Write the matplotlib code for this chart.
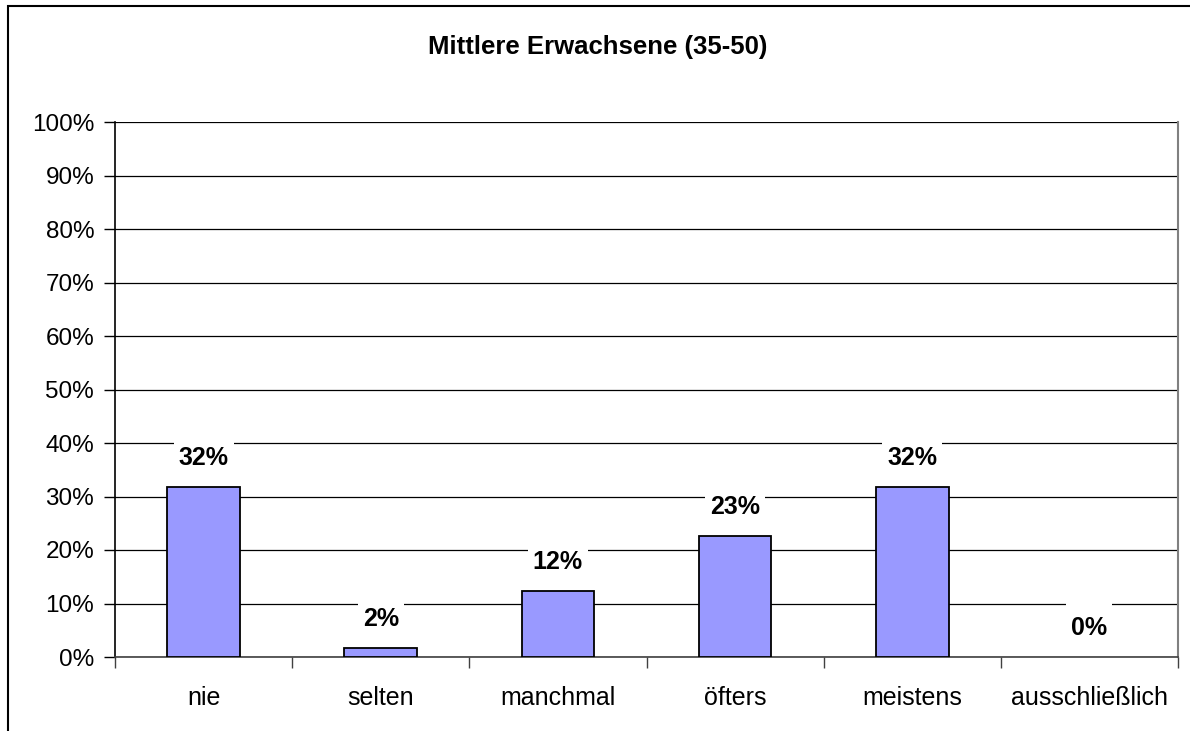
import matplotlib.pyplot as plt
from matplotlib.patches import Rectangle

categories = ['nie', 'selten', 'manchmal', 'öfters', 'meistens', 'ausschließlich']
values = [31.8, 1.7, 12.3, 22.6, 31.8, 0.0]
labels = ['32%', '2%', '12%', '23%', '32%', '0%']
yticks = [0, 10, 20, 30, 40, 50, 60, 70, 80, 90, 100]

plt.rcParams['font.family'] = ['Liberation Sans', 'DejaVu Sans']

fig = plt.figure(figsize=(11.9, 7.31), dpi=100)
W, H = 1190, 731
ax = fig.add_axes([115 / W, 1 - 657 / H, (1178 - 115) / W, (657 - 122) / H])

# outer chart frame (runs off the right and bottom edges)
fig.patches.append(Rectangle((8 / W, -0.1), 1.1, 1 - 6 / H + 0.1, transform=fig.transFigure,
                             fill=False, edgecolor='black', linewidth=1.5))

x = list(range(len(categories)))
ax.bar(x, values, width=0.41, color='#9999FF', edgecolor='black',
       linewidth=[1.3 if v > 0 else 0 for v in values], zorder=3)

texts = []
for xi, v, lab in zip(x, values, labels):
    t = ax.annotate(lab, (xi, v), xytext=(0, 21), textcoords='offset points',
                    ha='center', va='center', fontsize=18, fontweight='bold', zorder=5)
    texts.append(t)

ax.set_xlim(-0.5, len(categories) - 0.5)
ax.set_ylim(0, 100)
ax.set_yticks(yticks)
ax.set_yticklabels([f'{t}%' for t in yticks], fontsize=17.5)
ax.yaxis.grid(True, color='black', linewidth=0.9, zorder=0)
ax.set_axisbelow(True)

ax.set_xticks(x)
ax.set_xticklabels(categories, fontsize=18)
ax.tick_params(axis='x', length=0, pad=21)
ax.set_xticks([i - 0.5 for i in range(len(categories) + 1)], minor=True)
ax.tick_params(axis='x', which='minor', length=8, width=1, color='#404040')
ax.tick_params(axis='y', length=8, width=1, pad=7)

ax.spines['top'].set_visible(False)
ax.spines['right'].set_color('#808080')
ax.spines['right'].set_linewidth(1.5)
ax.spines['left'].set_linewidth(1.2)
ax.spines['bottom'].set_color('#404040')
ax.spines['bottom'].set_linewidth(1.2)

fig.text(598 / W, 1 - 47 / H, 'Mittlere Erwachsene (35-50)', ha='center', va='center',
         fontsize=18.5, fontweight='bold')

# white label boxes behind the data labels, like Excel draws them
fig.canvas.draw()
inv = ax.transAxes.inverted()
for t in texts:
    bb = t.get_window_extent()
    cy = (bb.y0 + bb.y1) / 2
    (x0, y0), (x1, y1) = inv.transform([(bb.x0 - 5, cy - 14), (bb.x1 + 5, cy + 26)])
    ax.add_patch(Rectangle((x0, y0), x1 - x0, y1 - y0, transform=ax.transAxes,
                           facecolor='white', edgecolor='none', zorder=4))

fig.savefig('out.png', dpi=100)
